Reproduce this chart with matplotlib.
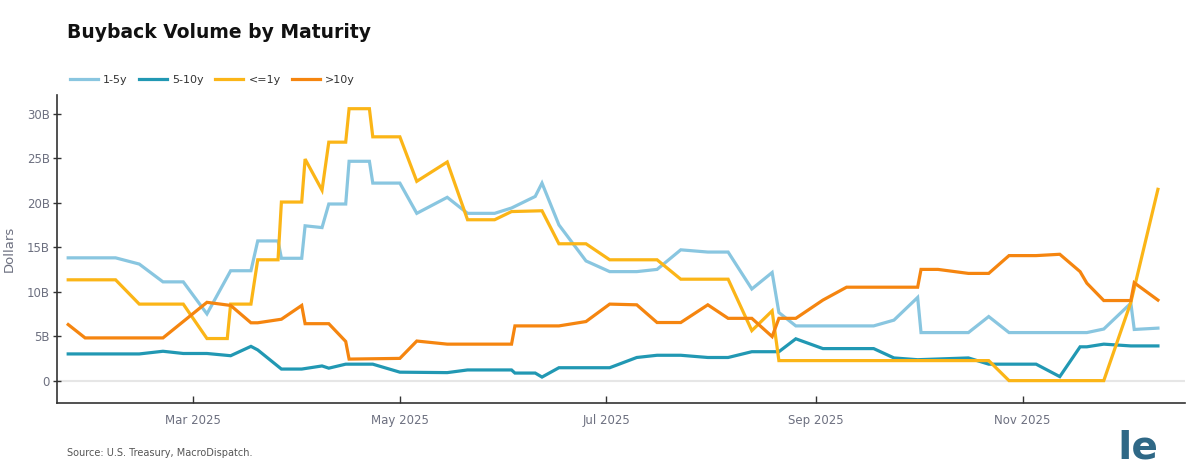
import matplotlib
matplotlib.use("Agg")
import matplotlib.pyplot as plt
import matplotlib.dates as mdates
import numpy as np
import pandas as pd

# values in billions of dollars
short_dates = ["2025-01-23", "2025-02-06", "2025-02-13", "2025-02-20", "2025-02-26", "2025-03-05",
               "2025-03-12", "2025-03-18", "2025-03-20", "2025-03-26", "2025-03-27", "2025-04-02",
               "2025-04-03", "2025-04-08", "2025-04-10", "2025-04-15", "2025-04-16", "2025-04-22",
               "2025-04-23", "2025-05-01", "2025-05-06", "2025-05-15", "2025-05-21", "2025-05-29",
               "2025-06-03", "2025-06-10", "2025-06-12", "2025-06-17", "2025-06-25", "2025-07-02",
               "2025-07-10", "2025-07-16", "2025-07-23", "2025-07-31", "2025-08-06", "2025-08-13",
               "2025-08-19", "2025-08-21", "2025-08-26", "2025-09-18", "2025-09-24", "2025-10-01",
               "2025-10-02", "2025-10-16", "2025-10-22", "2025-10-28", "2025-11-20", "2025-11-25",
               "2025-12-03", "2025-12-04", "2025-12-11"]
short_vals = [13.8, 13.8, 13.1, 11.1, 11.1, 7.5, 12.35, 12.35, 15.7, 15.7, 13.75, 13.75,
              17.4, 17.2, 19.85, 19.85, 24.65, 24.65, 22.2, 22.2, 18.8, 20.6, 18.8, 18.8,
              19.4, 20.7, 22.2, 17.5, 13.45, 12.25, 12.25, 12.5, 14.7, 14.45, 14.45, 10.3,
              12.15, 7.65, 6.15, 6.15, 6.8, 9.35, 5.4, 5.4, 7.2, 5.4, 5.4, 5.8,
              8.7, 5.75, 5.9]

mid_dates = ["2025-01-23", "2025-02-13", "2025-02-20", "2025-02-26", "2025-03-05", "2025-03-12",
             "2025-03-18", "2025-03-20", "2025-03-27", "2025-04-02", "2025-04-08", "2025-04-10",
             "2025-04-15", "2025-04-23", "2025-05-01", "2025-05-15", "2025-05-21", "2025-06-03",
             "2025-06-04", "2025-06-10", "2025-06-12", "2025-06-17", "2025-07-02", "2025-07-10",
             "2025-07-16", "2025-07-23", "2025-07-31", "2025-08-06", "2025-08-13", "2025-08-21",
             "2025-08-26", "2025-09-03", "2025-09-18", "2025-09-24", "2025-10-01", "2025-10-16",
             "2025-10-22", "2025-11-05", "2025-11-12", "2025-11-18", "2025-11-20", "2025-11-25",
             "2025-12-03", "2025-12-11"]
mid_vals = [3.0, 3.0, 3.3, 3.05, 3.05, 2.8, 3.85, 3.45, 1.3, 1.3, 1.65, 1.4,
            1.85, 1.85, 0.95, 0.9, 1.2, 1.2, 0.85, 0.85, 0.4, 1.45, 1.45, 2.6,
            2.85, 2.85, 2.6, 2.6, 3.25, 3.25, 4.7, 3.6, 3.6, 2.55, 2.35, 2.55,
            1.85, 1.85, 0.45, 3.8, 3.8, 4.1, 3.9, 3.9]

bill_dates = ["2025-01-23", "2025-02-06", "2025-02-13", "2025-02-26", "2025-03-05", "2025-03-11",
              "2025-03-12", "2025-03-18", "2025-03-20", "2025-03-26", "2025-03-27", "2025-04-02",
              "2025-04-03", "2025-04-08", "2025-04-10", "2025-04-15", "2025-04-16", "2025-04-22",
              "2025-04-23", "2025-05-01", "2025-05-06", "2025-05-15", "2025-05-21", "2025-05-29",
              "2025-06-03", "2025-06-12", "2025-06-17", "2025-06-25", "2025-07-02", "2025-07-16",
              "2025-07-23", "2025-08-06", "2025-08-13", "2025-08-19", "2025-08-21", "2025-10-22",
              "2025-10-28", "2025-11-25", "2025-12-03", "2025-12-11"]
bill_vals = [11.33, 11.33, 8.6, 8.6, 4.73, 4.73, 8.6, 8.6, 13.58, 13.58, 20.07, 20.07,
             24.9, 21.4, 26.8, 26.8, 30.56, 30.56, 27.4, 27.4, 22.4, 24.57, 18.08, 18.08,
             19.0, 19.09, 15.38, 15.38, 13.58, 13.58, 11.4, 11.4, 5.62, 7.84, 2.25, 2.25,
             0.0, 0.0, 8.8, 21.5]

long_dates = ["2025-01-23", "2025-01-28", "2025-02-20", "2025-03-05", "2025-03-12", "2025-03-18",
              "2025-03-20", "2025-03-27", "2025-04-02", "2025-04-03", "2025-04-10", "2025-04-15",
              "2025-04-16", "2025-05-01", "2025-05-06", "2025-05-15", "2025-06-03", "2025-06-04",
              "2025-06-17", "2025-06-25", "2025-07-02", "2025-07-10", "2025-07-16", "2025-07-23",
              "2025-07-31", "2025-08-06", "2025-08-13", "2025-08-19", "2025-08-21", "2025-08-26",
              "2025-09-03", "2025-09-10", "2025-10-01", "2025-10-02", "2025-10-07", "2025-10-16",
              "2025-10-22", "2025-10-28", "2025-11-05", "2025-11-12", "2025-11-18", "2025-11-20",
              "2025-11-25", "2025-12-03", "2025-12-04", "2025-12-11"]
long_vals = [6.3, 4.8, 4.8, 8.8, 8.45, 6.5, 6.5, 6.9, 8.45, 6.4, 6.4, 4.4,
             2.42, 2.5, 4.45, 4.1, 4.1, 6.15, 6.15, 6.64, 8.6, 8.52, 6.53, 6.53,
             8.52, 7.0, 7.0, 4.95, 7.0, 7.0, 9.05, 10.5, 10.5, 12.5, 12.5, 12.05,
             12.05, 14.05, 14.05, 14.2, 12.25, 10.95, 9.0, 9.0, 11.0, 9.05]

labels = ["1-5y", "5-10y", "<=1y", ">10y"]
colors = ["#89c6e0", "#2198b3", "#fbb517", "#f5850f"]

fig = plt.figure(figsize=(12, 4.71), dpi=100)
ax = fig.add_axes([0.0472, 0.1437, 0.9403, 0.6546])

ax.axhline(0, color="#e6e6e6", lw=1.5, zorder=1)

series = [(short_dates, short_vals), (mid_dates, mid_vals),
          (bill_dates, bill_vals), (long_dates, long_vals)]
for (d, v), lab, c in zip(series, labels, colors):
    ax.plot(pd.to_datetime(d), v, color=c, lw=2.3, label=lab,
            solid_joinstyle="miter", zorder=3)

ax.set_xlim(pd.Timestamp("2025-01-19 14:00"), pd.Timestamp("2025-12-19"))
ax.set_ylim(-2.55, 32.1)

ax.set_yticks(np.arange(0, 31, 5))
ax.yaxis.set_major_formatter(plt.FuncFormatter(lambda v, p: "0" if v == 0 else f"{int(v)}B"))
ax.set_xticks(pd.to_datetime(["2025-03-01", "2025-05-01", "2025-07-01", "2025-09-01", "2025-11-01"]))
ax.xaxis.set_major_formatter(mdates.DateFormatter("%b %Y"))

tick_col = "#6d7080"
ax.tick_params(axis="y", direction="inout", length=6, width=1, color="#333333",
               labelsize=8.5, labelcolor=tick_col, pad=2)
ax.tick_params(axis="x", direction="in", length=5, width=1, color="#333333",
               labelsize=8.5, labelcolor=tick_col, pad=8)

for s in ["top", "right"]:
    ax.spines[s].set_visible(False)
for s in ["left", "bottom"]:
    ax.spines[s].set_color("#333333")
    ax.spines[s].set_linewidth(1.2)

ax.set_ylabel("Dollars", fontsize=9.5, color=tick_col, labelpad=8)

ax.legend(loc="center left", bbox_to_anchor=(0.0583, 0.830), bbox_transform=fig.transFigure,
          ncol=4, frameon=False, fontsize=8, handlelength=2.5, handletextpad=0.5,
          columnspacing=1.0, borderpad=0, borderaxespad=0, labelcolor="#333333")

fig.text(0.0558, 0.930, "Buyback Volume by Maturity", fontsize=13.5, fontweight="bold",
         color="#111111", va="center")
fig.text(0.0558, 0.038, "Source: U.S. Treasury, MacroDispatch.", fontsize=7,
         color="#555555", va="center")
fig.text(0.9485, 0.050, "Ie", fontsize=28, fontweight="bold", color="#2f6886",
         va="center", ha="center")

fig.savefig("out.png", dpi=100)
